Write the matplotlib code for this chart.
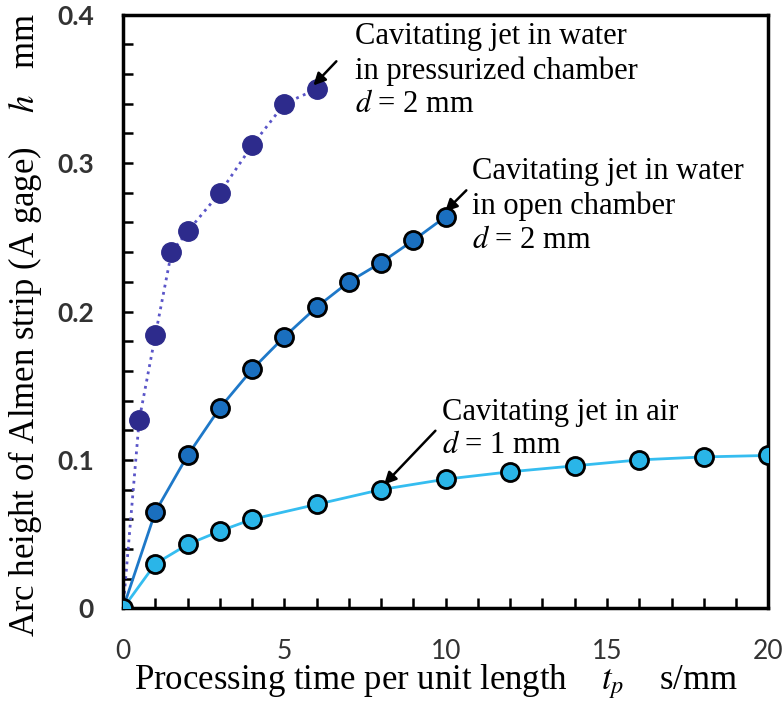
import matplotlib.pyplot as plt
import numpy as np

plt.rcParams['font.family'] = ['Liberation Serif', 'DejaVu Serif']
plt.rcParams['mathtext.fontset'] = 'stix'

# pressurized chamber, d = 2 mm
x_press = [0, 0.5, 1, 1.5, 2, 3, 4, 5, 6]
h_press = [0, 0.127, 0.184, 0.240, 0.254, 0.280, 0.312, 0.340, 0.350]
# open chamber, d = 2 mm
x_open = [0, 1, 2, 3, 4, 5, 6, 7, 8, 9, 10]
h_open = [0, 0.065, 0.103, 0.135, 0.161, 0.183, 0.203, 0.220, 0.233, 0.248, 0.264]
# in air, d = 1 mm
x_air = [0, 1, 2, 3, 4, 6, 8, 10, 12, 14, 16, 18, 20]
h_air = [0, 0.030, 0.043, 0.052, 0.060, 0.070, 0.080, 0.087, 0.092, 0.096, 0.100, 0.102, 0.103]

fig = plt.figure(figsize=(7.84, 7.04), dpi=100)
ax = fig.add_axes([0.157, 0.136, 0.823, 0.843])

ax.plot(x_press, h_press, ':', color='#5a55c8', lw=2, zorder=2)
ax.plot(x_press[1:], h_press[1:], 'o', color='#2d2b8c', ms=14, mec='#2d2b8c', zorder=3)
ax.plot(x_open, h_open, '-', color='#1e78c8', lw=2, zorder=2)
ax.plot(x_open[1:], h_open[1:], 'o', color='#1a6fbf', ms=13, mec='black', mew=2, zorder=4)
ax.plot(x_air, h_air, '-', color='#35bdf0', lw=2, zorder=2)
ax.plot(x_air, h_air, 'o', color='#2ab5e8', ms=13, mec='black', mew=2, zorder=4)

ax.set_xlim(0, 20)
ax.set_ylim(0, 0.4)
ax.set_xticks([0, 5, 10, 15, 20])
ax.set_xticks(np.arange(0, 21, 1), minor=True)
ax.set_yticks([0, 0.1, 0.2, 0.3, 0.4])
ax.set_yticklabels(['0', '0.1', '0.2', '0.3', '0.4'])
ax.set_yticks(np.arange(0, 0.41, 0.02), minor=True)
ax.tick_params(which='both', direction='in', width=1.8, length=7, top=False, right=False)
ax.tick_params(axis='x', which='major', pad=22)
ax.tick_params(axis='y', which='major', pad=21)
for lab in ax.get_xticklabels() + ax.get_yticklabels():
    lab.set_family(['Lato', 'DejaVu Sans'])
    lab.set_fontsize(19)
    lab.set_color('#333333')
for lab in ax.get_yticklabels():
    lab.set_weight('bold')
for s in ax.spines.values():
    s.set_linewidth(2.5)

fig.text(436 / 784, 1 - 682 / 704, 'Processing time per unit length    $t_p$    s/mm',
         fontsize=25, ha='center', va='center')
fig.text(25 / 784, 1 - 325 / 704, 'Arc height of Almen strip (A gage)    $h$   mm',
         fontsize=25, ha='center', va='center', rotation=90)

fs = 22
ax.text(7.2, 0.395, 'Cavitating jet in water\nin pressurized chamber\n$d$ = 2 mm',
        fontsize=fs, va='top', ha='left', linespacing=1.22)
ax.text(10.8, 0.304, 'Cavitating jet in water\nin open chamber\n$d$ = 2 mm',
        fontsize=fs, va='top', ha='left', linespacing=1.22)
ax.text(9.9, 0.142, 'Cavitating jet in air\n$d$ = 1 mm',
        fontsize=fs, va='top', ha='left', linespacing=1.22)

arr = dict(arrowstyle='-|>', color='black', lw=1.8, mutation_scale=18)
ax.annotate('', xy=(5.84, 0.351), xytext=(6.67, 0.370), arrowprops=arr)
ax.annotate('', xy=(9.92, 0.266), xytext=(10.7, 0.283), arrowprops=arr)
ax.annotate('', xy=(8.03, 0.082), xytext=(9.74, 0.121), arrowprops=arr)

fig.savefig('out.png', dpi=100)
